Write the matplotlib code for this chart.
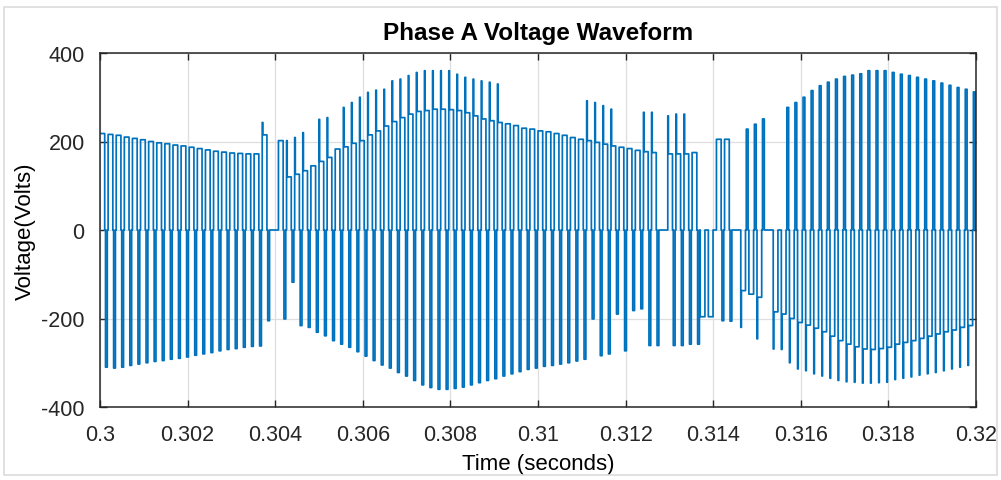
import numpy as np
import matplotlib.pyplot as plt
from matplotlib.patches import Rectangle

plt.rcParams['font.family'] = ['Liberation Sans', 'DejaVu Sans']
plt.rcParams['axes.unicode_minus'] = False

LINE_COLOR = '#0072BD'
T_START = 0.3
T_END = 0.32
N_CYCLES = 108
T_SW = (T_END - T_START) / N_CYCLES   # inverter switching period

# per switching cycle: wide pulse level, thin spike level, narrow opposite pulse level (V)
box_lvl = [218, 216, 214, 210, 207, 204, 200, 197, 195, 192,
           190, 187, 184, 181, 178, 176, 174, 173, 172, 172,
           215, 0, 202, 120, 126, 134, 145, 155, 164, 183,
           188, 196, 202, 215, 224, 235, 245, 254, 262, 268,
           270, 273, 273, 272, 270, 265, 258, 251, 247, 243,
           240, 236, 230, 228, 224, 222, 218, 214, 209, 205,
           202, 198, 194, 190, 187, 184, 180, 177, 175, 0,
           172, 172, 172, 175, -196, -196, 205, 205, 0, -137,
           -145, -152, 0, -185, -190, -200, -209, -215, -222, -230,
           -240, -250, -258, -264, -269, -270, -268, -265, -258, -254,
           -250, -245, -240, -235, -230, -226, -220, -216]
spike_lvl = [0, 0, 0, 0, 0, 0, 0, 0, 0, 0,
             0, 0, 0, 0, 0, 0, 0, 0, 0, 0,
             243, 0, 0, 202, 209, 220, 0, 250, 254, 0,
             277, 288, 300, 311, 316, 318, 337, 341, 349, 356,
             360, 360, 360, 360, 352, 345, 341, 337, 334, 330,
             0, 0, 0, 0, 0, 0, 0, 0, 0, 0,
             292, 288, 281, 273, 0, 0, 0, 266, 266, 0,
             258, 262, 262, 0, 0, 0, 0, 0, 0, -220,
             0, -246, 0, -269, -270, -300, -314, -318, -325, -330,
             -335, -340, -343, -344, -346, -346, -345, -344, -338, -335,
             -332, -328, -325, -322, -318, -314, -310, -306]
narrow_lvl = [-310, -312, -310, -306, -303, -300, -297, -295, -292, -290,
              -287, -283, -280, -277, -273, -270, -268, -265, -263, -262,
              -205, 0, -201, -118, -216, -220, -231, -239, -250, -258,
              -265, -275, -285, -295, -305, -312, -322, -330, -340, -350,
              -356, -360, -360, -358, -355, -350, -345, -340, -336, -330,
              -325, -320, -315, -312, -308, -306, -303, -300, -296, -292,
              -201, -284, -280, -190, -273, -182, -178, -261, -261, 0,
              -261, -261, -258, -258, 0, 0, -205, -206, 0, 228,
              239, 251, 0, 0, 277, 288, 300, 315, 326, 334,
              341, 347, 350, 353, 360, 360, 360, 356, 352, 349,
              345, 341, 337, 332, 327, 322, 318, 312]

# fractions of a switching period for each segment
W_SPIKE = 0.08
W_BOX = 0.50
W_GAP = 0.10
W_NARROW = 0.22

x_ticks = np.arange(0.3, 0.3201, 0.002)
x_labels = ['0.3', '0.302', '0.304', '0.306', '0.308', '0.31',
            '0.312', '0.314', '0.316', '0.318', '0.32']
y_ticks = [-400, -200, 0, 200, 400]

# build the stepped phase voltage
t, v = [], []
edges = np.cumsum([0, W_SPIKE, W_BOX, W_GAP, W_NARROW])
for k, (b, s, n) in enumerate(zip(box_lvl, spike_lvl, narrow_lvl)):
    t0 = T_START + k * T_SW
    levels = [s if s else b, b, 0, n, 0]
    for e, lv in zip(edges, levels):
        t.append(t0 + e * T_SW)
        v.append(lv)
t.append(T_END)
v.append(0)

fig = plt.figure(figsize=(10.01, 4.81), dpi=100)
fig.patches.append(Rectangle((4 / 1001, 5 / 481), 993 / 1001, 468 / 481,
                             transform=fig.transFigure, fill=False,
                             edgecolor='#dcdcdc', lw=1.2))
ax = fig.add_axes([100 / 1001, 73 / 481, 876 / 1001, 354 / 481])
ax.step(t, v, where='post', color=LINE_COLOR, lw=1.25)

ax.set_xlim(T_START, T_END)
ax.set_ylim(-400, 400)
ax.set_xticks(x_ticks)
ax.set_xticklabels(x_labels)
ax.set_yticks(y_ticks)
ax.grid(True, color='#dedede', lw=0.9)
ax.set_axisbelow(True)
ax.tick_params(direction='in', length=5, width=1, colors='#262626',
               top=True, right=True, labelsize=15.5)
ax.tick_params(axis='x', pad=12)
ax.tick_params(axis='y', pad=11)
for sp in ax.spines.values():
    sp.set_color('#262626')
    sp.set_linewidth(1.1)

ax.set_title('Phase A Voltage Waveform', fontsize=17.5, fontweight='bold', pad=10)
ax.set_xlabel('Time (seconds)', fontsize=16, labelpad=6)
ax.set_ylabel('Voltage(Volts)', fontsize=16)
ax.yaxis.set_label_coords(-0.073, 0.5)

plt.savefig('out.png', dpi=100)
